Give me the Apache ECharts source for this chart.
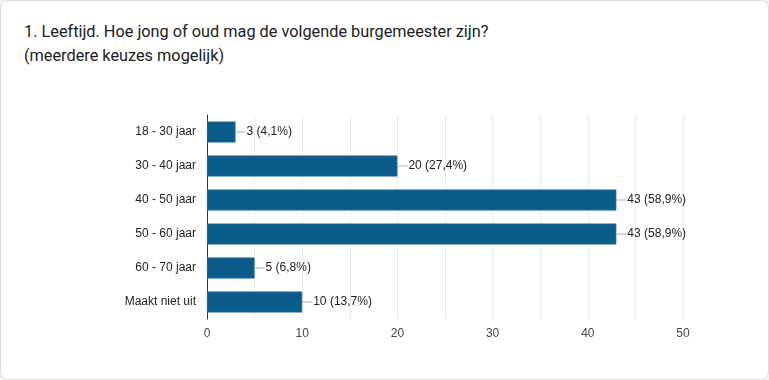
<!DOCTYPE html>
<html><head><meta charset="utf-8">
<script src="https://cdn.jsdelivr.net/npm/echarts@6/dist/echarts.min.js"></script>
<style>
html,body{margin:0;padding:0;background:#f1f3f4;}
#card{position:absolute;left:0;top:0;width:767px;height:378px;background:#fff;border:1px solid #dadce0;border-radius:8px;}
#title{position:absolute;left:24px;top:20px;font-family:Roboto,Arial,sans-serif;font-size:16.3px;line-height:24px;color:#202124;}
#chart{position:absolute;left:0;top:0;width:769px;height:380px;}
</style></head>
<body>
<div id="card"></div>
<div id="title">1. Leeftijd. Hoe jong of oud mag de volgende burgemeester zijn?<br>(meerdere keuzes mogelijk)</div>
<div id="chart"></div>
<script>
const categories = ['18 - 30 jaar','30 - 40 jaar','40 - 50 jaar','50 - 60 jaar','60 - 70 jaar','Maakt niet uit'];
const counts = [3, 20, 43, 43, 5, 10];
const percents = ['4,1%','27,4%','58,9%','58,9%','6,8%','13,7%'];
const xTicks = [0, 10, 20, 30, 40, 50];

const chart = echarts.init(document.getElementById('chart'), null, {renderer:'canvas'});
chart.setOption({
  animation:false,
  backgroundColor:'transparent',
  grid:{left:207, right:86, top:115, bottom:61, containLabel:false},
  xAxis:{
    type:'value', min:0, max:50, interval:5,
    axisLine:{show:false}, axisTick:{show:false},
    splitLine:{show:true, lineStyle:{color:'#ebebeb', width:1}},
    axisLabel:{
      margin:9, color:'#444', fontFamily:'Arial, Liberation Sans, sans-serif', fontSize:12,
      formatter:function(v){return xTicks.indexOf(v)>=0 ? String(v) : '';}
    }
  },
  yAxis:{
    type:'category', data:categories, inverse:true,
    axisLine:{show:true, lineStyle:{color:'#333', width:1}},
    axisTick:{show:false},
    axisLabel:{margin:11, color:'#222', fontFamily:'Arial, Liberation Sans, sans-serif', fontSize:12}
  },
  series:[{
    type:'bar', data:counts, barWidth:21,
    itemStyle:{color:'#0b5c8a', borderColor:'#2f7aa3', borderWidth:0.6},
    label:{
      show:true, position:'right', distance:0,
      formatter:function(p){return '{l|}{t|' + p.value + ' (' + percents[p.dataIndex] + ')}';},
      rich:{
        l:{width:10, height:1, backgroundColor:'#aaaaaa'},
        t:{color:'#222', fontFamily:'Arial, Liberation Sans, sans-serif', fontSize:12, padding:[0,0,0,1]}
      }
    }
  }]
});
</script>
</body></html>
